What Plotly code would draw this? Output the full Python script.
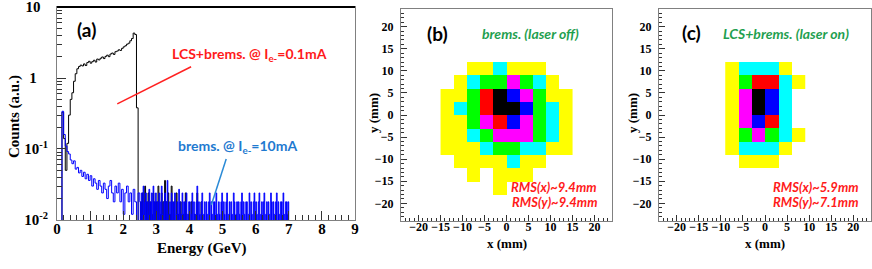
import numpy as np
import plotly.graph_objects as go

# ---------------- data ----------------
# spectra, low-energy segment: bins of 0.05 GeV starting at 0.10 GeV
low_start, low_width = 0.10, 0.05
brems_10mA_low = [
    0.001, 0.34, 0.16, 0.11, 0.092, 0.085, 0.07, 0.062, 0.068, 0.052,
    0.055, 0.046, 0.05, 0.041, 0.047, 0.038, 0.044, 0.036, 0.042, 0.03,
    0.038, 0.033, 0.027, 0.036, 0.03, 0.024, 0.033, 0.027, 0.02, 0.03,
    0.036, 0.024, 0.018, 0.03, 0.024, 0.033, 0.018, 0.027, 0.012, 0.024,
    0.03, 0.018, 0.024, 0.012, 0.027, 0.018, 0.004, 0.024,
]
lcs_brems_01mA_low = [
    0.001, 0.33, 0.14, 0.05, 0.12, 0.3, 0.5, 0.62, 0.9, 1.15,
    1.35, 1.45, 1.52, 1.48, 1.58, 1.5, 1.65, 1.72, 1.62, 1.7,
    1.78, 1.68, 1.85, 1.8, 1.9, 1.98, 1.88, 2.02, 2.1, 2.0,
    2.18, 2.25, 2.15, 2.35, 2.4, 2.5, 2.45, 2.62, 2.75, 2.85,
    3.0, 3.1, 3.35, 3.6, 4.3, 4.1, 0.38, 0.004,
]
# spectra, high-energy segment: bins of 0.025 GeV starting at 2.50 GeV
high_start, high_width = 2.50, 0.025
brems_10mA_high = [
    0.018, 0.004, 0.024, 0.012, 0.03, 0.004, 0.018, 0.024, 0.004, 0.018, 0.012, 0.027, 0.004, 0.018, 0.024, 0.004, 0.03, 0.018, 0.004, 0.024,
    0.012, 0.018, 0.004, 0.024, 0.018, 0.004, 0.03, 0.012, 0.004, 0.018, 0.024, 0.004, 0.018, 0.036, 0.004, 0.012, 0.018, 0.004, 0.024, 0.018,
    0.004, 0.018, 0.024, 0.004, 0.012, 0.018, 0.004, 0.027, 0.018, 0.004, 0.012, 0.024, 0.004, 0.018, 0.018, 0.004, 0.024, 0.012, 0.004, 0.018,
    0.018, 0.004, 0.012, 0.024, 0.004, 0.018, 0.012, 0.004, 0.018, 0.03, 0.004, 0.018, 0.012, 0.004, 0.018, 0.024, 0.004, 0.012, 0.018, 0.004,
    0.018, 0.012, 0.004, 0.018, 0.024, 0.004, 0.018, 0.012, 0.004, 0.018, 0.018, 0.004, 0.024, 0.012, 0.004, 0.018, 0.012, 0.004, 0.018, 0.024,
    0.004, 0.018, 0.012, 0.004, 0.018, 0.024, 0.004, 0.012, 0.018, 0.004, 0.018, 0.012, 0.004, 0.024, 0.018, 0.004, 0.012, 0.018, 0.004, 0.018,
    0.012, 0.004, 0.018, 0.024, 0.004, 0.018, 0.012, 0.004, 0.018, 0.018, 0.004, 0.012, 0.024, 0.004, 0.018, 0.012, 0.004, 0.018, 0.024, 0.004,
    0.018, 0.012, 0.004, 0.018, 0.024, 0.004, 0.012, 0.018, 0.004, 0.018, 0.024, 0.004, 0.012, 0.018, 0.004, 0.018, 0.012, 0.004, 0.024, 0.018,
    0.004, 0.018, 0.012, 0.004, 0.018, 0.024, 0.004, 0.018, 0.012, 0.004, 0.018, 0.018, 0.004, 0.024, 0.012, 0.004, 0.018, 0.018, 0.012, 0.018,
    0.001,
]
lcs_brems_01mA_high = [
    0.004, 0.018, 0.004, 0.024, 0.004, 0.012, 0.03, 0.004, 0.018, 0.004, 0.024, 0.004, 0.018, 0.004, 0.012, 0.004, 0.024, 0.004, 0.018, 0.004,
    0.018, 0.004, 0.03, 0.004, 0.012, 0.004, 0.024, 0.004, 0.018, 0.004, 0.036, 0.004, 0.018, 0.004, 0.024, 0.004, 0.012, 0.004, 0.03, 0.004,
    0.004, 0.018, 0.004, 0.004, 0.024, 0.004, 0.012, 0.004, 0.004, 0.018, 0.004, 0.004, 0.012, 0.004, 0.004, 0.024, 0.004, 0.004, 0.004, 0.012,
    0.004, 0.004, 0.018, 0.004, 0.004, 0.004, 0.012, 0.004, 0.004, 0.024, 0.004, 0.004, 0.004, 0.004, 0.018, 0.004, 0.004, 0.004, 0.004, 0.004,
    0.001,
]

energy_ticks = [0, 1, 2, 3, 4, 5, 6, 7, 8, 9]
count_tickvals = [0.01, 0.1, 1, 10]
count_ticktext = ["10<sup>-2</sup>", "10<sup>-1</sup>", "1&nbsp;&nbsp;&nbsp;", "10&nbsp;&nbsp;"]
count_minor_ticks = [0.02, 0.03, 0.04, 0.05, 0.06, 0.07, 0.08, 0.09,
                     0.2, 0.3, 0.4, 0.5, 0.6, 0.7, 0.8, 0.9,
                     2, 3, 4, 5, 6, 7, 8, 9]

# beam profiles: bin centers (mm), 3 mm bins; level codes 1..7, 0 = empty
level_colors = ["#ffff00", "#00ffff", "#00ff00", "#ff00ff", "#ff0000", "#0000ff", "#000000"]

prof_b_x = [-13.5, -10.5, -7.5, -4.5, -1.5, 1.5, 4.5, 7.5, 10.5, 13.5]
prof_b_y = [-16.5, -13.5, -10.5, -7.5, -4.5, -1.5, 1.5, 4.5, 7.5, 10.5]
prof_b_z = [
    [0, 0, 0, 0, 1, 0, 0, 0, 0, 0],
    [0, 0, 1, 0, 1, 1, 1, 0, 0, 0],
    [0, 1, 1, 1, 1, 2, 1, 1, 0, 0],
    [1, 1, 1, 2, 3, 3, 2, 2, 1, 1],
    [1, 1, 2, 3, 4, 4, 4, 3, 2, 1],
    [1, 1, 3, 4, 5, 6, 4, 3, 2, 1],
    [1, 2, 3, 5, 7, 7, 6, 3, 2, 1],
    [1, 1, 3, 5, 7, 6, 4, 3, 1, 1],
    [0, 1, 2, 3, 3, 4, 3, 2, 1, 0],
    [0, 0, 1, 1, 2, 1, 1, 1, 0, 0],
]

prof_c_x = [-7.5, -4.5, -1.5, 1.5, 4.5, 7.5]
prof_c_y = [-10.5, -7.5, -4.5, -1.5, 1.5, 4.5, 7.5, 10.5]
prof_c_z = [
    [0, 1, 1, 1, 0, 0],
    [1, 2, 2, 2, 1, 0],
    [1, 3, 4, 3, 2, 1],
    [1, 4, 6, 5, 2, 0],
    [1, 4, 7, 6, 2, 0],
    [1, 4, 7, 6, 2, 0],
    [1, 3, 5, 5, 2, 1],
    [1, 2, 2, 2, 1, 0],
]
mm_ticks = [-20, -15, -10, -5, 0, 5, 10, 15, 20]

# ---------------- figure ----------------
W, H = 872, 269
def px(x):
    return x / W
def py(y):
    return 1 - y / H

fig = go.Figure()

def edges(start, width, vals):
    return [start + i * width for i in range(len(vals))]

e_black = edges(low_start, low_width, lcs_brems_01mA_low) + edges(high_start, high_width, lcs_brems_01mA_high)
v_black = lcs_brems_01mA_low + lcs_brems_01mA_high

fig.add_trace(go.Scatter(x=e_black, y=v_black, mode="lines", line_shape="hv",
                         line=dict(color="black", width=1), hoverinfo="skip",
                         xaxis="x", yaxis="y", showlegend=False))
# blue: low-energy part as a line, noisy high-energy part filled like dense bins
fig.add_trace(go.Scatter(x=edges(low_start, low_width, brems_10mA_low) + [high_start],
                         y=brems_10mA_low + [brems_10mA_high[0]], mode="lines", line_shape="hv",
                         line=dict(color="#0000ff", width=1), hoverinfo="skip",
                         xaxis="x", yaxis="y", showlegend=False))
fig.add_trace(go.Scatter(x=edges(high_start, high_width, brems_10mA_high), y=brems_10mA_high,
                         mode="lines", line_shape="hv", fill="tozeroy", fillcolor="#0000ff",
                         line=dict(color="#0000ff", width=0.8), hoverinfo="skip",
                         xaxis="x", yaxis="y", showlegend=False))

cs = []
n = len(level_colors)
for i, c in enumerate(level_colors):
    cs.append([i / n, c])
    cs.append([(i + 1) / n, c])

def clean(z):
    return [[(v if v > 0 else None) for v in row] for row in z]

fig.add_trace(go.Heatmap(x=prof_b_x, y=prof_b_y, z=clean(prof_b_z), colorscale=cs,
                         zmin=0.5, zmax=7.5, showscale=False, hoverinfo="skip",
                         xaxis="x2", yaxis="y2"))
fig.add_trace(go.Heatmap(x=prof_c_x, y=prof_c_y, z=clean(prof_c_z), colorscale=cs,
                         zmin=0.5, zmax=7.5, showscale=False, hoverinfo="skip",
                         xaxis="x3", yaxis="y3"))

serif = "Liberation Serif"
sans = "Lato"
axcol = "#808080"

def mm_axis(dom, anchor, standoff):
    return dict(domain=dom, anchor=anchor, range=[-24, 24], tickvals=mm_ticks,
                ticks="inside", ticklen=6, tickcolor="#333", showline=True, mirror=True,
                linecolor=axcol, linewidth=1, showgrid=False, zeroline=False,
                ticklabelstandoff=standoff, ticklabeloverflow="allow",
                tickfont=dict(family=serif, size=12, color="black", weight="bold"),
                minor=dict(dtick=1, ticks="inside", ticklen=3, tickcolor="#333", showgrid=False),
                automargin=False)

fig.update_layout(
    width=W, height=H, margin=dict(l=0, r=0, t=0, b=0),
    paper_bgcolor="white", plot_bgcolor="white",
    xaxis=dict(domain=[px(57), px(355)], anchor="y", range=[0, 9], tickvals=energy_ticks,
               ticks="inside", ticklen=9, tickcolor="#333", showline=True, mirror=True,
               linecolor=axcol, showgrid=False, zeroline=False, ticklabelstandoff=-5,
               ticklabeloverflow="allow",
               tickfont=dict(family=serif, size=15, color="black", weight="bold"),
               minor=dict(dtick=0.2, ticks="inside", ticklen=5, tickcolor="#333", showgrid=False),
               automargin=False),
    yaxis=dict(domain=[py(220), py(7)], anchor="x", type="log", range=[-2.001, 1.001],
               tickvals=count_tickvals, ticktext=count_ticktext,
               ticks="inside", ticklen=9, tickcolor="#333", showline=True, mirror=True,
               linecolor=axcol, showgrid=False, zeroline=False, ticklabelstandoff=5,
               ticklabeloverflow="allow",
               tickfont=dict(family=serif, size=15, color="black", weight="bold"),
               minor=dict(tickmode="array", tickvals=count_minor_ticks, ticks="inside",
                          ticklen=5, tickcolor="#333", showgrid=False),
               automargin=False),
    xaxis2=mm_axis([px(401), px(612)], "y2", -5),
    yaxis2=mm_axis([py(221), py(9)], "x2", 4),
    xaxis3=mm_axis([px(659), px(871)], "y3", -5),
    yaxis3=mm_axis([py(221), py(9)], "x3", 4),
)

# top frame line of panel (a)
fig.add_shape(type="line", xref="paper", yref="paper", x0=px(57), x1=px(355),
              y0=py(7), y1=py(7), line=dict(color="black", width=2))

# pointer lines (shapes use data values on the log axis)
fig.add_shape(type="line", xref="x", yref="y", x0=1.82, y0=0.433, x1=4.05, y1=1.44,
              line=dict(color="#ff2020", width=1.5))
fig.add_shape(type="line", xref="x", yref="y", x0=4.66, y0=0.0162, x1=5.11, y1=0.072,
              line=dict(color="#2a8ad6", width=1.5))

ann = []
def A(text, x, y, size, color, xref="paper", yref="paper", family=sans, bold=True, italic=False, angle=0):
    ann.append(dict(text=text, x=x, y=y, xref=xref, yref=yref, showarrow=False, textangle=angle,
                    xanchor="center", yanchor="middle",
                    font=dict(family=family, size=size, color=color,
                              weight="bold" if bold else "normal",
                              style="italic" if italic else "normal")))

# axis titles
A("Counts (a.u.)", px(15), py(117), 15, "black", family=serif, angle=-90)
A("Energy (GeV)", px(202), py(248), 15, "black", family=serif)
A("x (mm)", px(507), py(243), 13, "black", family=serif)
A("y (mm)", px(373), py(113), 13, "black", family=serif, angle=-90)
A("x (mm)", px(765), py(243), 13, "black", family=serif)
A("y (mm)", px(632), py(113), 13, "black", family=serif, angle=-90)

# panel (a) labels (annotations on the log axis use log10 positions)
A("(a)", 0.9, np.log10(4.8), 19, "black", xref="x", yref="y")
A("LCS+brems. @ I<sub>e-</sub>=0.1mA", 5.82, np.log10(2.12), 14, "#ff1a1a", xref="x", yref="y")
A("brems. @ I<sub>e-</sub>=10mA", 5.44, np.log10(0.107), 14, "#1f7ad0", xref="x", yref="y")

# panel (b) labels
A("(b)", -15.7, 18.5, 19, "black", xref="x2", yref="y2")
A("brems. (laser off)", 5.5, 18.5, 14, "#1fa04f", xref="x2", yref="y2", italic=True)
A("RMS(x)~9.4mm", 10.9, -16.2, 13, "#ff1a1a", xref="x2", yref="y2", italic=True)
A("RMS(y)~9.4mm", 10.9, -19.7, 13, "#ff1a1a", xref="x2", yref="y2", italic=True)

# panel (c) labels
A("(c)", -16.6, 18.7, 19, "black", xref="x3", yref="y3")
A("LCS+brems. (laser on)", 4.75, 18.5, 14, "#1fa04f", xref="x3", yref="y3", italic=True)
A("RMS(x)~5.9mm", 11.5, -16.2, 13, "#ff1a1a", xref="x3", yref="y3", italic=True)
A("RMS(y)~7.1mm", 11.5, -19.7, 13, "#ff1a1a", xref="x3", yref="y3", italic=True)

fig.update_layout(annotations=ann)
fig.write_html("out.html", config={"displayModeBar": False},
               post_script="document.body.style.margin='0';document.body.style.overflow='hidden';")
